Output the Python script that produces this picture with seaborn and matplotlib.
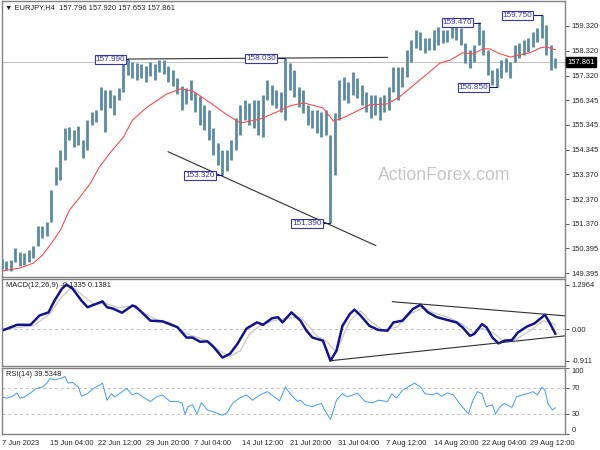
import numpy as np
import pandas as pd
import matplotlib
matplotlib.use("Agg")
import matplotlib.pyplot as plt
import seaborn as sns

# EURJPY H4 - one entry per three H4 bars, high / low
bar_high = [149.95, 149.88, 149.92, 150.40, 150.25, 150.20, 150.32, 150.48, 151.28, 151.28,
            151.45, 152.73, 153.66, 154.34, 155.22, 155.26, 155.14, 155.30, 154.74, 155.54,
            155.86, 155.95, 156.87, 156.75, 156.75, 156.55, 156.83, 157.83, 157.99, 157.87,
            157.83, 157.79, 157.71, 157.87, 157.79, 157.95, 157.95, 157.71, 157.55, 157.23,
            156.91, 156.83, 157.15, 156.67, 156.51, 156.15, 155.95, 155.22, 154.62, 154.34,
            154.34, 154.74, 155.62, 156.15, 156.35, 156.23, 156.35, 156.35, 156.55, 157.15,
            156.95, 156.75, 156.67, 158.03, 157.83, 157.55, 156.87, 156.75, 156.15, 155.95,
            155.95, 155.86, 155.95, 154.94, 155.82, 157.15, 157.27, 157.07, 157.47, 157.23,
            156.95, 156.67, 156.55, 156.55, 156.47, 156.55, 156.87, 157.67, 157.67, 157.67,
            158.36, 158.76, 159.16, 159.08, 158.84, 158.84, 159.16, 159.28, 159.16, 159.16,
            159.40, 159.42, 159.24, 158.64, 158.36, 158.56, 159.47, 159.16, 158.36, 157.55,
            157.63, 157.95, 158.03, 157.87, 158.56, 158.64, 158.76, 158.84, 159.08, 159.24,
            159.75, 159.36, 158.56, 158.03]
bar_low = [149.55, 149.52, 149.50, 149.85, 149.70, 149.72, 149.85, 150.00, 150.48, 150.80,
           150.88, 151.45, 152.93, 153.14, 153.94, 154.74, 154.46, 154.54, 154.02, 154.34,
           155.34, 155.46, 155.95, 155.06, 156.02, 155.75, 156.35, 156.67, 157.35, 157.23,
           157.15, 157.23, 157.07, 157.31, 157.15, 157.47, 157.39, 157.07, 156.91, 156.59,
           155.95, 156.19, 156.35, 155.87, 155.34, 155.14, 154.74, 154.14, 153.74, 153.32,
           153.50, 153.94, 154.34, 154.94, 155.54, 155.34, 155.22, 154.94, 154.86, 156.35,
           156.15, 156.02, 155.87, 155.54, 156.75, 156.47, 156.07, 155.82, 155.34, 155.22,
           155.02, 154.86, 154.94, 151.39, 153.34, 155.54, 156.35, 156.23, 156.55, 156.43,
           156.15, 155.87, 155.62, 155.75, 155.54, 155.86, 155.95, 156.67, 156.35, 156.87,
           157.27, 157.87, 158.44, 158.36, 158.24, 158.36, 158.36, 158.56, 158.64, 158.68,
           158.84, 158.76, 158.56, 157.83, 157.63, 157.87, 158.56, 158.16, 157.35, 156.95,
           156.85, 157.23, 157.47, 157.23, 157.87, 158.03, 158.16, 158.28, 158.48, 158.68,
           158.84, 158.16, 157.55, 157.63]

# moving average (red)
ma_bar = [0, 12, 21, 27, 33, 39, 45, 52, 59, 65, 72, 81, 87, 97, 101, 110, 119, 127, 139, 150,
          159, 172, 185, 192, 201, 214, 221, 227, 237, 245, 257, 265, 277, 285, 292, 299, 307,
          314, 321, 325, 332, 339, 345, 352, 359, 363, 369]
ma_val = [149.48, 149.60, 149.80, 150.12, 150.60, 151.13, 151.93, 152.45, 153.01, 153.66,
          154.22, 154.86, 155.54, 156.07, 156.23, 156.59, 156.79, 156.71, 156.23, 155.75,
          155.42, 155.58, 155.91, 156.11, 156.23, 156.03, 155.50, 155.62, 155.91, 156.15,
          156.19, 156.47, 157.07, 157.47, 157.83, 157.95, 158.24, 158.20, 158.40, 158.40,
          158.20, 158.07, 158.16, 158.24, 158.44, 158.48, 158.36]

# MACD(12,26,9)
macd_bar = [0, 10, 19, 25, 31, 35, 40, 43, 47, 53, 57, 63, 67, 70, 74, 80, 87, 89, 92, 99,
            107, 117, 123, 127, 132, 137, 141, 147, 152, 157, 163, 170, 174, 180, 184, 187,
            193, 199, 203, 207, 214, 219, 223, 227, 232, 235, 239, 245, 251, 257, 261, 267,
            274, 279, 284, 290, 297, 303, 307, 312, 315, 320, 323, 327, 331, 335, 340, 344,
            350, 355, 362, 365, 369]
macd_val = [-0.04, 0.13, 0.13, 0.40, 0.49, 0.83, 1.18, 1.2964, 1.18, 0.83, 0.64, 0.74, 0.81,
            0.64, 0.60, 0.48, 0.69, 0.66, 0.54, 0.25, 0.23, 0.06, -0.24, -0.24, -0.36, -0.35,
            -0.51, -0.82, -0.71, -0.42, 0.02, 0.20, 0.13, 0.32, 0.35, 0.20, 0.49, 0.25, -0.04,
            -0.24, -0.33, -0.911, -0.62, 0.10, 0.45, 0.57, 0.40, 0.10, -0.02, -0.04, 0.20,
            0.25, 0.59, 0.71, 0.49, 0.35, 0.27, 0.20, 0.06, -0.19, -0.13, 0.15, 0.06, -0.24,
            -0.41, -0.33, -0.31, -0.09, 0.08, 0.17, 0.42, 0.20, -0.1335]
signal_bar = [0, 21, 32, 39, 47, 54, 61, 70, 77, 87, 94, 103, 112, 123, 137, 145, 152, 159,
              165, 172, 181, 190, 199, 203, 210, 217, 223, 227, 232, 239, 245, 254, 263, 272,
              281, 287, 299, 307, 314, 320, 327, 334, 343, 352, 361, 369]
signal_val = [0.0, 0.10, 0.45, 0.90, 1.24, 0.97, 0.74, 0.74, 0.63, 0.66, 0.49, 0.28, 0.20,
              -0.13, -0.33, -0.62, -0.79, -0.62, -0.13, 0.10, 0.25, 0.32, 0.35, 0.16, -0.19,
              -0.38, -0.67, -0.23, 0.25, 0.54, 0.25, -0.02, 0.06, 0.44, 0.63, 0.49, 0.32,
              0.15, -0.09, 0.03, -0.09, -0.33, -0.28, -0.04, 0.25, 0.1381]

# RSI(14)
rsi_bar = [0, 3, 7, 10, 12, 15, 19, 23, 27, 30, 32, 35, 39, 42, 44, 47, 51, 53, 57, 61, 65,
           67, 70, 73, 75, 79, 83, 87, 90, 94, 99, 103, 107, 112, 117, 120, 122, 124, 127,
           130, 133, 137, 141, 147, 150, 154, 159, 163, 167, 172, 177, 181, 185, 189, 192,
           197, 199, 202, 207, 210, 213, 215, 219, 221, 223, 227, 230, 234, 237, 242, 247,
           251, 257, 260, 263, 267, 272, 275, 279, 282, 287, 290, 293, 297, 301, 305, 311,
           314, 317, 320, 323, 327, 329, 332, 335, 340, 343, 347, 352, 354, 357, 360, 362,
           364, 367, 369]
rsi_val = [56, 54, 57, 62, 54, 56, 62, 69, 71, 77, 84, 82, 84, 87, 77, 78, 71, 57, 61, 69,
           74, 77, 51, 61, 56, 62, 69, 59, 62, 56, 49, 56, 59, 49, 49, 47, 30, 41, 44, 30,
           47, 36, 33, 28, 32, 47, 55, 59, 51, 59, 64, 57, 50, 71, 61, 49, 51, 44, 41, 44,
           46, 36, 22, 36, 51, 61, 56, 59, 62, 49, 47, 51, 49, 61, 54, 66, 73, 77, 71, 61,
           59, 62, 57, 62, 59, 46, 30, 51, 64, 61, 41, 44, 30, 41, 46, 40, 56, 59, 62, 64,
           59, 71, 66, 46, 36, 39.5348]

date_labels = ["7 Jun 2023", "15 Jun 04:00", "22 Jun 12:00", "29 Jun 20:00", "7 Jul 04:00",
               "14 Jul 12:00", "21 Jul 20:00", "31 Jul 04:00", "7 Aug 12:00", "14 Aug 20:00",
               "22 Aug 04:00", "29 Aug 12:00"]
price_ticks = [149.395, 150.395, 151.370, 152.370, 153.370, 154.345, 155.345, 156.345,
               157.320, 158.320, 159.320]
macd_ticks = [-0.911, 0.0, 1.2964]
rsi_ticks = [0, 30, 70, 100]
last_price = 157.861

sns.set_style("white")
plt.rcParams['font.family'] = ['Liberation Sans', 'DejaVu Sans']

BAR_C = '#5b8ba3'
FRAME = '#808080'
LBL_C = '#3535b5'
FS = 5.4

W, H = 600, 450
fig = plt.figure(figsize=(6, 4.5), dpi=100)


def panel(top, bottom):
    ax = fig.add_axes([1.7 / W, 1 - bottom / H, (565.5 - 1.7) / W, (bottom - top) / H])
    ax.set_xlim(-0.2, 375.7)
    for s in ax.spines.values():
        s.set_color(FRAME)
        s.set_linewidth(1.0)
    ax.yaxis.tick_right()
    ax.tick_params(axis='y', length=3, width=0.6, color='#404040', labelsize=FS, pad=1.5)
    ax.set_xticks([])
    return ax


ax = panel(1, 277)
ax_m = panel(279, 366)
ax_r = panel(368, 434)

# ---- price panel
bars = pd.DataFrame({'bar': np.arange(len(bar_high)) * 3, 'high': bar_high, 'low': bar_low})
ax.axhline(last_price, color='#c4c4c4', lw=0.8, zorder=1)
ax.vlines(bars['bar'], bars['low'], bars['high'], color=BAR_C, lw=2.0, zorder=3)
sns.lineplot(x=ma_bar, y=ma_val, ax=ax, color='#ff4a4a', lw=0.8, zorder=4)
ax.set_ylim(149.24, 160.32)
ax.set_yticks(price_ticks)
ax.set_yticklabels([f"{t:.3f}" for t in price_ticks])

# trend lines
ax.plot([84, 257], [157.99, 158.057], color='#303030', lw=0.8, zorder=2)
ax.plot([110.7, 249.3], [154.27, 150.50], color='#303030', lw=0.8, zorder=2)

# price labels
for txt, b_bar, price, gap in [("157.990", 84, 157.99, 1.0), ("158.030", 189, 158.03, 5.5),
                               ("153.320", 147, 153.32, 4.5), ("151.390", 219, 151.39, 5.0),
                               ("159.470", 319, 159.45, 4.5), ("159.750", 360, 159.75, 5.5),
                               ("156.850", 330, 156.85, 5.0)]:
    ax.plot([b_bar - gap, b_bar], [price, price], color='#1a1a60', lw=0.8, zorder=5)
    ax.text(b_bar - gap - 0.8, price, txt, ha='right', va='center', fontsize=5.9,
            color=LBL_C, zorder=6,
            bbox=dict(boxstyle='square,pad=0.12', fc='white', ec=LBL_C, lw=0.8))

ax.text(294.7, 153.3, "ActionForex.com", fontsize=12.7, color='#c6c6c6',
        ha='center', va='center', zorder=0)
ax.text(0.005, 0.978, "\u25bc EURJPY,H4  157.796 157.920 157.653 157.861",
        transform=ax.transAxes, fontsize=FS, va='center', ha='left', color='#202020')
ax.text(1.003, last_price, f"{last_price:.3f}", transform=ax.get_yaxis_transform(),
        fontsize=FS, color='white', va='center', ha='left', zorder=7, clip_on=False,
        bbox=dict(boxstyle='square,pad=0.2', fc='black', ec='black'))

# ---- MACD panel
ax_m.axhline(0, color='#c0c0c0', lw=0.7, ls=(0, (3, 3)))
sns.lineplot(x=signal_bar, y=signal_val, ax=ax_m, color='#c8c8c8', lw=0.9)
sns.lineplot(x=macd_bar, y=macd_val, ax=ax_m, color='#14148c', lw=1.8)
ax_m.plot([260.2, 375.3], [0.80, 0.39], color='#303030', lw=0.8)
ax_m.plot([219.1, 375.3], [-0.91, -0.19], color='#303030', lw=0.8)
ax_m.set_ylim(-1.064, 1.458)
ax_m.set_yticks(macd_ticks)
ax_m.set_yticklabels(["-0.911", "0.00", "1.2964"])
ax_m.text(0.007, 0.93, "MACD(12,26,9) -0.1335 0.1381", transform=ax_m.transAxes,
          fontsize=FS, va='center', ha='left', color='#202020')

# ---- RSI panel
for lvl in (70, 30):
    ax_r.axhline(lvl, color='#c0c0c0', lw=0.7, ls=(0, (3, 3)))
sns.lineplot(x=rsi_bar, y=rsi_val, ax=ax_r, color='#3d9bff', lw=0.7)
ax_r.set_ylim(-0.5, 100)
ax_r.set_yticks(rsi_ticks)
ax_r.set_yticklabels([str(t) for t in rsi_ticks])
rl = ax_r.get_yticklabels()
rl[0].set_va('bottom')
rl[-1].set_va('top')
ax_r.text(0.007, 0.9, "RSI(14) 39.5348", transform=ax_r.transAxes,
          fontsize=FS, va='center', ha='left', color='#202020')

ax_r.set_xticks(np.arange(len(date_labels)) * 32)
ax_r.set_xticklabels(date_labels)
ax_r.tick_params(axis='x', length=3, width=0.6, color='#404040', labelsize=FS, pad=1.5)
for t in ax_r.get_xticklabels():
    t.set_ha('left')

for a in (ax, ax_m, ax_r):
    a.set_xlabel('')
    a.set_ylabel('')

fig.savefig("out.png", dpi=100)
